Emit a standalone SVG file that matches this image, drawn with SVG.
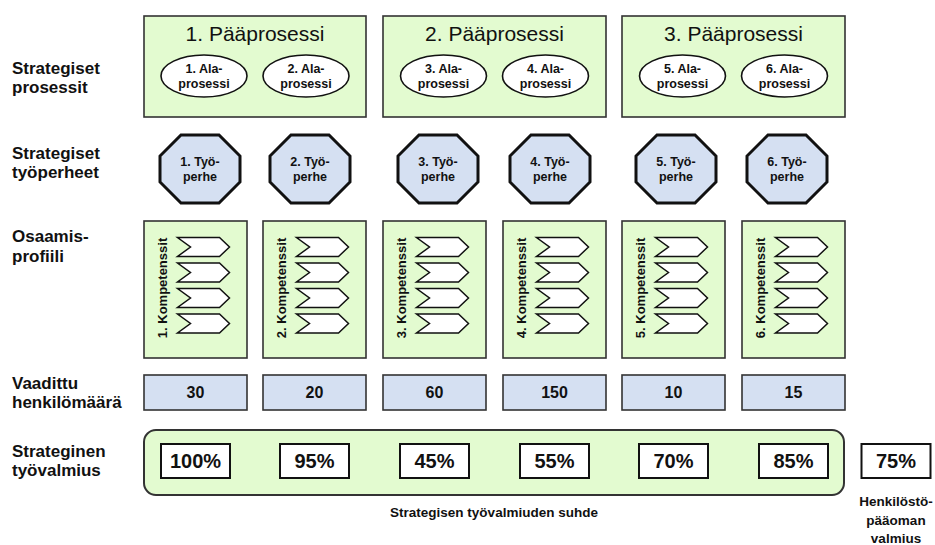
<svg xmlns="http://www.w3.org/2000/svg" xmlns:xlink="http://www.w3.org/1999/xlink" width="935" height="545" viewBox="0 0 935 545">
  <style>
    .lbl { font-family: "Liberation Sans", Arial, sans-serif; font-weight: bold; font-size: 17px; fill: #111; }
    .title { font-family: "Liberation Sans", Arial, sans-serif; font-size: 21px; fill: #111; text-anchor: middle; }
    .small { font-family: "Liberation Sans", Arial, sans-serif; font-weight: bold; font-size: 12.5px; fill: #111; text-anchor: middle; }
    .rot { font-family: "Liberation Sans", Arial, sans-serif; font-weight: bold; font-size: 13px; fill: #111; text-anchor: middle; }
    .num { font-family: "Liberation Sans", Arial, sans-serif; font-weight: bold; font-size: 16px; fill: #111; text-anchor: middle; }
    .pct { font-family: "Liberation Sans", Arial, sans-serif; font-weight: bold; font-size: 20px; fill: #111; text-anchor: middle; }
    .foot { font-family: "Liberation Sans", Arial, sans-serif; font-weight: bold; font-size: 13.5px; fill: #111; text-anchor: middle; }
    .green { fill: #e3fbd0; stroke: #333; stroke-width: 1.6; }
    .blue { fill: #d5e0f2; stroke: #333; stroke-width: 1.6; }
    .ell { fill: #fff; stroke: #111; stroke-width: 1.6; }
    .oct { fill: #d5e0f2; stroke: #111; stroke-width: 3; stroke-linejoin: miter; }
    .chev { fill: #fff; stroke: #111; stroke-width: 1.5; stroke-linejoin: miter; }
    .pbox { fill: #fff; stroke: #111; stroke-width: 2; }
  </style>
  <defs>
    <polygon id="octagon" points="-19,-34 19,-34 40,-13 40,13 19,34 -19,34 -40,13 -40,-13"/>
    <path id="chevron" d="M0,0 H42 L52,9.5 L42,19 H0 L13,9.5 Z"/>
  </defs>

  <!-- row labels -->
  <g id="row-labels">
    <text class="lbl" x="12" y="74">Strategiset</text>
    <text class="lbl" x="12" y="93">prosessit</text>
    <text class="lbl" x="12" y="159">Strategiset</text>
    <text class="lbl" x="12" y="178">työperheet</text>
    <text class="lbl" x="12" y="242">Osaamis-</text>
    <text class="lbl" x="12" y="262">profiili</text>
    <text class="lbl" x="12" y="389">Vaadittu</text>
    <text class="lbl" x="12" y="408">henkilömäärä</text>
    <text class="lbl" x="12" y="457">Strateginen</text>
    <text class="lbl" x="12" y="476">työvalmius</text>
  </g>

  <!-- main processes with sub-processes -->
  <g id="paaprosessi-1">
    <rect class="green" x="144" y="16" width="222" height="101"/>
    <text class="title" x="255" y="41">1. Pääprosessi</text>
  </g>
  <g id="paaprosessi-2">
    <rect class="green" x="383" y="16" width="223" height="101"/>
    <text class="title" x="494.5" y="41">2. Pääprosessi</text>
  </g>
  <g id="paaprosessi-3">
    <rect class="green" x="622" y="16" width="223" height="101"/>
    <text class="title" x="733.5" y="41">3. Pääprosessi</text>
  </g>

  <g id="alaprosessi-1">
    <ellipse class="ell" cx="204" cy="76" rx="43" ry="21"/>
    <text class="small" x="204" y="73">1. Ala-</text>
    <text class="small" x="204" y="87.5">prosessi</text>
  </g>
  <g id="alaprosessi-2">
    <ellipse class="ell" cx="306" cy="76" rx="43" ry="21"/>
    <text class="small" x="306" y="73">2. Ala-</text>
    <text class="small" x="306" y="87.5">prosessi</text>
  </g>
  <g id="alaprosessi-3">
    <ellipse class="ell" cx="443.5" cy="76" rx="43" ry="21"/>
    <text class="small" x="443.5" y="73">3. Ala-</text>
    <text class="small" x="443.5" y="87.5">prosessi</text>
  </g>
  <g id="alaprosessi-4">
    <ellipse class="ell" cx="545.5" cy="76" rx="43" ry="21"/>
    <text class="small" x="545.5" y="73">4. Ala-</text>
    <text class="small" x="545.5" y="87.5">prosessi</text>
  </g>
  <g id="alaprosessi-5">
    <ellipse class="ell" cx="682.5" cy="76" rx="43" ry="21"/>
    <text class="small" x="682.5" y="73">5. Ala-</text>
    <text class="small" x="682.5" y="87.5">prosessi</text>
  </g>
  <g id="alaprosessi-6">
    <ellipse class="ell" cx="784.5" cy="76" rx="43" ry="21"/>
    <text class="small" x="784.5" y="73">6. Ala-</text>
    <text class="small" x="784.5" y="87.5">prosessi</text>
  </g>

  <!-- job families -->
  <g id="tyoperhe-1">
    <use xlink:href="#octagon" href="#octagon" class="oct" x="200" y="169"/>
    <text class="small" x="200" y="166">1. Työ-</text>
    <text class="small" x="200" y="181">perhe</text>
  </g>
  <g id="tyoperhe-2">
    <use xlink:href="#octagon" href="#octagon" class="oct" x="310" y="169"/>
    <text class="small" x="310" y="166">2. Työ-</text>
    <text class="small" x="310" y="181">perhe</text>
  </g>
  <g id="tyoperhe-3">
    <use xlink:href="#octagon" href="#octagon" class="oct" x="438" y="169"/>
    <text class="small" x="438" y="166">3. Työ-</text>
    <text class="small" x="438" y="181">perhe</text>
  </g>
  <g id="tyoperhe-4">
    <use xlink:href="#octagon" href="#octagon" class="oct" x="550" y="169"/>
    <text class="small" x="550" y="166">4. Työ-</text>
    <text class="small" x="550" y="181">perhe</text>
  </g>
  <g id="tyoperhe-5">
    <use xlink:href="#octagon" href="#octagon" class="oct" x="676" y="169"/>
    <text class="small" x="676" y="166">5. Työ-</text>
    <text class="small" x="676" y="181">perhe</text>
  </g>
  <g id="tyoperhe-6">
    <use xlink:href="#octagon" href="#octagon" class="oct" x="787" y="169"/>
    <text class="small" x="787" y="166">6. Työ-</text>
    <text class="small" x="787" y="181">perhe</text>
  </g>

  <!-- competence profiles -->
  <g id="kompetenssit-1">
    <rect class="green" x="144" y="221" width="103" height="137"/>
    <text class="rot" transform="translate(166.5 288) rotate(-90)">1. Kompetenssit</text>
    <use xlink:href="#chevron" href="#chevron" class="chev" x="177.5" y="237.5"/>
    <use xlink:href="#chevron" href="#chevron" class="chev" x="177.5" y="263"/>
    <use xlink:href="#chevron" href="#chevron" class="chev" x="177.5" y="288.5"/>
    <use xlink:href="#chevron" href="#chevron" class="chev" x="177.5" y="314"/>
  </g>
  <g id="kompetenssit-2">
    <rect class="green" x="263" y="221" width="103" height="137"/>
    <text class="rot" transform="translate(285.5 288) rotate(-90)">2. Kompetenssit</text>
    <use xlink:href="#chevron" href="#chevron" class="chev" x="296.5" y="237.5"/>
    <use xlink:href="#chevron" href="#chevron" class="chev" x="296.5" y="263"/>
    <use xlink:href="#chevron" href="#chevron" class="chev" x="296.5" y="288.5"/>
    <use xlink:href="#chevron" href="#chevron" class="chev" x="296.5" y="314"/>
  </g>
  <g id="kompetenssit-3">
    <rect class="green" x="383" y="221" width="103" height="137"/>
    <text class="rot" transform="translate(405.5 288) rotate(-90)">3. Kompetenssit</text>
    <use xlink:href="#chevron" href="#chevron" class="chev" x="416.5" y="237.5"/>
    <use xlink:href="#chevron" href="#chevron" class="chev" x="416.5" y="263"/>
    <use xlink:href="#chevron" href="#chevron" class="chev" x="416.5" y="288.5"/>
    <use xlink:href="#chevron" href="#chevron" class="chev" x="416.5" y="314"/>
  </g>
  <g id="kompetenssit-4">
    <rect class="green" x="503" y="221" width="103" height="137"/>
    <text class="rot" transform="translate(525.5 288) rotate(-90)">4. Kompetenssit</text>
    <use xlink:href="#chevron" href="#chevron" class="chev" x="536.5" y="237.5"/>
    <use xlink:href="#chevron" href="#chevron" class="chev" x="536.5" y="263"/>
    <use xlink:href="#chevron" href="#chevron" class="chev" x="536.5" y="288.5"/>
    <use xlink:href="#chevron" href="#chevron" class="chev" x="536.5" y="314"/>
  </g>
  <g id="kompetenssit-5">
    <rect class="green" x="622" y="221" width="103" height="137"/>
    <text class="rot" transform="translate(644.5 288) rotate(-90)">5. Kompetenssit</text>
    <use xlink:href="#chevron" href="#chevron" class="chev" x="655.5" y="237.5"/>
    <use xlink:href="#chevron" href="#chevron" class="chev" x="655.5" y="263"/>
    <use xlink:href="#chevron" href="#chevron" class="chev" x="655.5" y="288.5"/>
    <use xlink:href="#chevron" href="#chevron" class="chev" x="655.5" y="314"/>
  </g>
  <g id="kompetenssit-6">
    <rect class="green" x="742" y="221" width="103" height="137"/>
    <text class="rot" transform="translate(764.5 288) rotate(-90)">6. Kompetenssit</text>
    <use xlink:href="#chevron" href="#chevron" class="chev" x="775.5" y="237.5"/>
    <use xlink:href="#chevron" href="#chevron" class="chev" x="775.5" y="263"/>
    <use xlink:href="#chevron" href="#chevron" class="chev" x="775.5" y="288.5"/>
    <use xlink:href="#chevron" href="#chevron" class="chev" x="775.5" y="314"/>
  </g>

  <!-- required headcount -->
  <g id="henkilomaara-1"><rect class="blue" x="144" y="375" width="103" height="35"/><text class="num" x="195.5" y="398">30</text></g>
  <g id="henkilomaara-2"><rect class="blue" x="263" y="375" width="103" height="35"/><text class="num" x="314.5" y="398">20</text></g>
  <g id="henkilomaara-3"><rect class="blue" x="383" y="375" width="103" height="35"/><text class="num" x="434.5" y="398">60</text></g>
  <g id="henkilomaara-4"><rect class="blue" x="503" y="375" width="103" height="35"/><text class="num" x="554.5" y="398">150</text></g>
  <g id="henkilomaara-5"><rect class="blue" x="622" y="375" width="103" height="35"/><text class="num" x="673.5" y="398">10</text></g>
  <g id="henkilomaara-6"><rect class="blue" x="742" y="375" width="103" height="35"/><text class="num" x="793.5" y="398">15</text></g>

  <!-- strategic readiness -->
  <g id="tyovalmius">
    <rect class="green" x="144" y="430" width="700" height="65" rx="12" ry="12" style="stroke-width:2"/>
    <text class="foot" x="494" y="517">Strategisen työvalmiuden suhde</text>
  </g>
  <g id="valmius-1"><rect class="pbox" x="161" y="444" width="69" height="34"/><text class="pct" x="195.5" y="468">100%</text></g>
  <g id="valmius-2"><rect class="pbox" x="280" y="444" width="69" height="34"/><text class="pct" x="314.5" y="468">95%</text></g>
  <g id="valmius-3"><rect class="pbox" x="400" y="444" width="69" height="34"/><text class="pct" x="434.5" y="468">45%</text></g>
  <g id="valmius-4"><rect class="pbox" x="520" y="444" width="69" height="34"/><text class="pct" x="554.5" y="468">55%</text></g>
  <g id="valmius-5"><rect class="pbox" x="639" y="444" width="69" height="34"/><text class="pct" x="673.5" y="468">70%</text></g>
  <g id="valmius-6"><rect class="pbox" x="759" y="444" width="69" height="34"/><text class="pct" x="793.5" y="468">85%</text></g>
  <g id="henkilostopaaoma">
    <rect class="pbox" x="861.5" y="444" width="69" height="34"/>
    <text class="pct" x="896" y="468">75%</text>
    <text class="foot" x="896" y="506">Henkilöstö-</text>
    <text class="foot" x="896" y="524.5">pääoman</text>
    <text class="foot" x="896" y="543">valmius</text>
  </g>
</svg>
